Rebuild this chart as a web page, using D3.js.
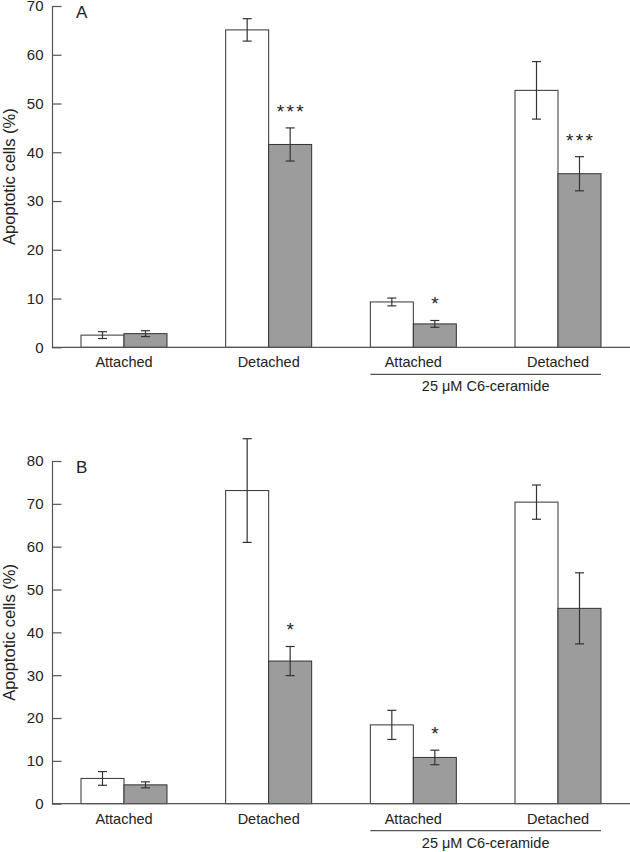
<!DOCTYPE html>
<html><head><meta charset="utf-8">
<script src="https://cdn.jsdelivr.net/npm/d3@7"></script>
<style>html,body{margin:0;padding:0;background:#fff}svg{display:block}text{font-family:"Liberation Sans",Arial,Helvetica,sans-serif;fill:#222}</style>
</head><body>
<script>
const groups = ["Attached", "Detached", "Attached (ceramide)", "Detached (ceramide)"];
const groupLabels = ["Attached", "Detached", "Attached", "Detached"];
const bracketLabel = "25 \u03bcM C6-ceramide";
const yLabel = "Apoptotic cells (%)";

const panelNames = ["A", "B"];
const yMaxes = [70, 80];
const yTicksA = [0, 10, 20, 30, 40, 50, 60, 70];
const yTicksB = [0, 10, 20, 30, 40, 50, 60, 70, 80];

const controlA = [2.5, 65.1, 9.3, 52.7];
const controlErrA = [0.7, 2.3, 0.8, 5.9];
const treatedA = [2.8, 41.6, 4.8, 35.6];
const treatedErrA = [0.6, 3.4, 0.7, 3.5];
const sigA = ["", "***", "*", "***"];

const controlB = [5.9, 73.1, 18.4, 70.4];
const controlErrB = [1.6, 12.1, 3.4, 4.0];
const treatedB = [4.4, 33.3, 10.8, 45.6];
const treatedErrB = [0.7, 3.4, 1.7, 8.3];
const sigB = ["", "*", "*", ""];

const W = 630, H = 852;
const svg = d3.select("body").append("svg").attr("width", W).attr("height", H);

const axisX = 52;
const barW = 43;
const x = d3.scalePoint().domain(groups).range([124, 558]);

const panels = [
  {name: panelNames[0], yMax: yMaxes[0], ticks: yTicksA, top: 6, bottom: 347.3,
   ctrl: controlA, ctrlErr: controlErrA, trt: treatedA, trtErr: treatedErrA, sig: sigA},
  {name: panelNames[1], yMax: yMaxes[1], ticks: yTicksB, top: 461, bottom: 803.7,
   ctrl: controlB, ctrlErr: controlErrB, trt: treatedB, trtErr: treatedErrB, sig: sigB}
];

panels.forEach(p => {
  const g = svg.append("g");
  const y = d3.scaleLinear().domain([0, p.yMax]).range([p.bottom, p.top]);

  const series = [
    {vals: p.ctrl, errs: p.ctrlErr, fill: "#ffffff", off: -barW},
    {vals: p.trt, errs: p.trtErr, fill: "#9c9c9c", off: 0}
  ];
  series.forEach(s => {
    g.selectAll(null).data(groups).enter().append("rect")
      .attr("x", d => x(d) + s.off)
      .attr("y", (d, i) => y(s.vals[i]))
      .attr("width", barW)
      .attr("height", (d, i) => y(0) - y(s.vals[i]))
      .attr("fill", s.fill)
      .attr("stroke", "#333")
      .attr("stroke-width", 1);
    groups.forEach((d, i) => {
      const cx = x(d) + s.off + barW / 2;
      const y1 = y(s.vals[i] + s.errs[i]), y2 = y(s.vals[i] - s.errs[i]);
      g.append("line").attr("x1", cx).attr("x2", cx).attr("y1", y1).attr("y2", y2).attr("stroke", "#333").attr("stroke-width", 1.2);
      g.append("line").attr("x1", cx - 4.5).attr("x2", cx + 4.5).attr("y1", y1).attr("y2", y1).attr("stroke", "#333").attr("stroke-width", 1.2);
      g.append("line").attr("x1", cx - 4.5).attr("x2", cx + 4.5).attr("y1", y2).attr("y2", y2).attr("stroke", "#333").attr("stroke-width", 1.2);
    });
  });

  // significance marks
  groups.forEach((d, i) => {
    if (!p.sig[i]) return;
    const cx = x(d) + barW / 2;
    const yt = y(p.trt[i] + p.trtErr[i]);
    g.append("text").attr("x", cx + 1.2).attr("y", yt - 10)
      .attr("text-anchor", "middle").attr("font-size", 19)
      .attr("letter-spacing", 2.4).text(p.sig[i]);
  });

  // y axis
  const ax = g.append("g").attr("transform", `translate(${axisX},0)`)
    .call(d3.axisLeft(y).tickValues(p.ticks).tickSize(-9.5).tickSizeOuter(0).tickPadding(8.5));
  ax.select(".domain").attr("stroke", "#555").attr("stroke-width", 1.2);
  ax.selectAll(".tick line").attr("stroke", "#555").attr("stroke-width", 1.2);
  ax.selectAll(".tick text").attr("font-size", 15).attr("fill", "#222")
    .attr("font-family", '"Liberation Sans",Arial,sans-serif');

  // x baseline
  g.append("line").attr("x1", axisX).attr("x2", W).attr("y1", y(0)).attr("y2", y(0))
    .attr("stroke", "#555").attr("stroke-width", 1.2);

  // category labels
  g.selectAll(null).data(groups).enter().append("text")
    .attr("x", d => x(d)).attr("y", y(0) + 20)
    .attr("text-anchor", "middle").attr("font-size", 14.5)
    .text((d, i) => groupLabels[i]);

  // bracket
  const bx1 = x(groups[2]) - barW, bx2 = x(groups[3]) + barW;
  g.append("line").attr("x1", bx1).attr("x2", bx2).attr("y1", y(0) + 27).attr("y2", y(0) + 27)
    .attr("stroke", "#555").attr("stroke-width", 1.2);
  g.append("text").attr("x", (bx1 + bx2) / 2).attr("y", y(0) + 44)
    .attr("text-anchor", "middle").attr("font-size", 14.5).text(bracketLabel);

  // panel letter
  g.append("text").attr("x", 76).attr("y", p.top + 12).attr("font-size", 17).text(p.name);

  // y label
  g.append("text").attr("transform", `translate(15,${(p.top + p.bottom) / 2}) rotate(-90)`)
    .attr("text-anchor", "middle").attr("font-size", 16.5).text(yLabel);
});
</script>
</body></html>
